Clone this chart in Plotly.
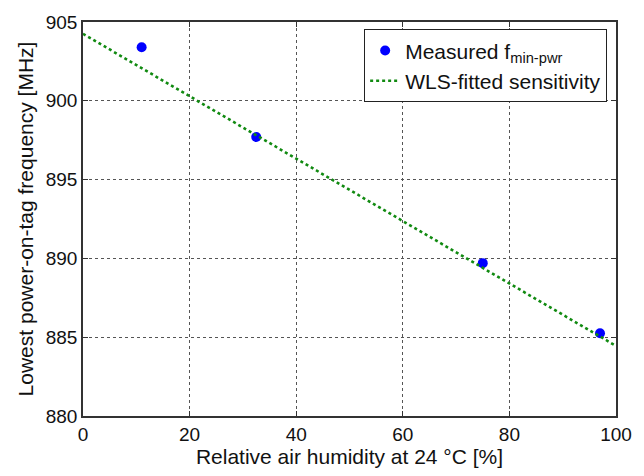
import plotly.graph_objects as go

# Measured lowest power-on-tag frequency vs relative humidity
humidity = [11.0, 32.5, 75.0, 97.0]
f_min_pwr = [903.4, 897.7, 889.7, 885.25]

# WLS-fitted sensitivity line endpoints
fit_x = [0, 100]
fit_y = [904.25, 884.45]

x_ticks = [0, 20, 40, 60, 80, 100]
y_ticks = [880, 885, 890, 895, 900, 905]

FONT = "Liberation Sans, Arial"

fig = go.Figure()
fig.add_trace(go.Scatter(
    x=humidity, y=f_min_pwr, mode="markers",
    name="Measured f<sub>min-pwr</sub>",
    marker=dict(color="#0000ff", size=10, line=dict(width=0)),
))
fig.add_trace(go.Scatter(
    x=fit_x, y=fit_y, mode="lines",
    name="WLS-fitted sensitivity",
    line=dict(color="#118a11", width=2.6, dash="dot"),
))

axis_common = dict(
    showline=True, linecolor="#333333", linewidth=1.5, mirror="ticks",
    ticks="inside", ticklen=5, tickcolor="#333333",
    showgrid=True, gridcolor="#555555", gridwidth=1, griddash="dot",
    zeroline=False,
    tickfont=dict(family=FONT, size=19, color="#111111"),
)

fig.update_layout(
    width=644, height=476,
    margin=dict(l=83, r=18, t=17, b=60),
    paper_bgcolor="white", plot_bgcolor="white",
    font=dict(family=FONT, color="#111111"),
    showlegend=True,
    legend=dict(
        x=0.983, y=0.982, xanchor="right", yanchor="top",
        bgcolor="white", bordercolor="#222222", borderwidth=1.2,
        font=dict(size=21, family=FONT, color="#111111"),
        tracegroupgap=0, itemwidth=30,
    ),
    xaxis=dict(
        range=[0, 100], tickvals=x_ticks,
        title=dict(text="Relative air humidity at 24 °C [%]",
                   font=dict(size=21), standoff=4),
        **axis_common,
    ),
    yaxis=dict(
        range=[880, 905], tickvals=y_ticks,
        title=dict(text="Lowest power-on-tag frequency [MHz]",
                   font=dict(size=21), standoff=6),
        **axis_common,
    ),
)

fig.write_html("out.html")
